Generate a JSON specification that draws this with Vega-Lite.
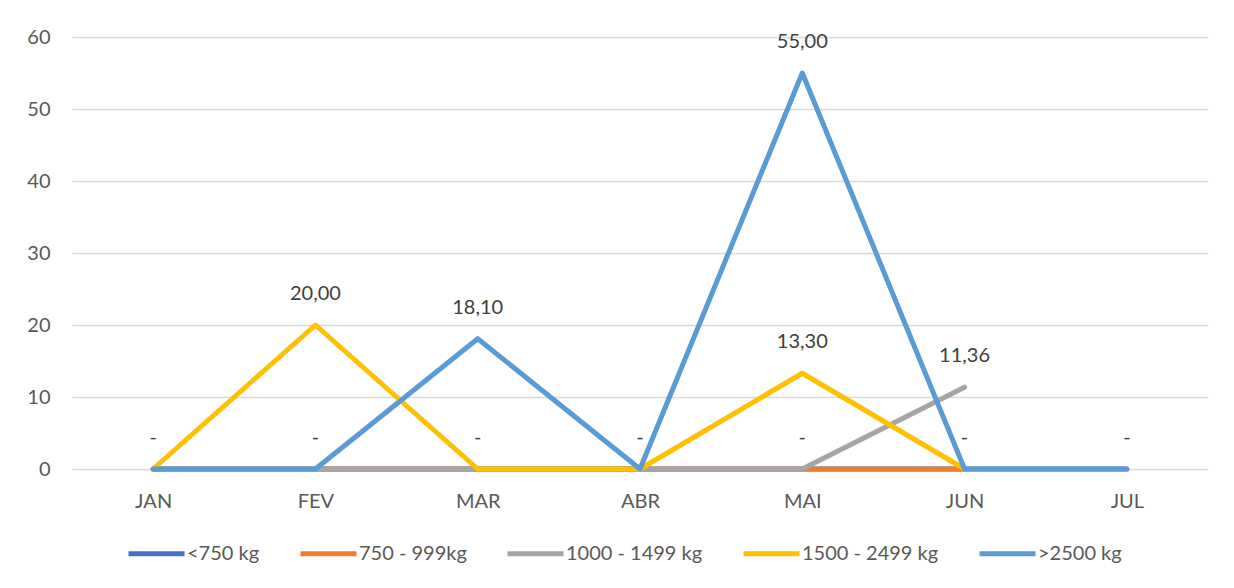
{
  "$schema": "https://vega.github.io/schema/vega-lite/v6.json",
  "width": 1136,
  "height": 432,
  "autosize": {"type": "none"},
  "padding": {"left": 72, "top": 37, "right": 26, "bottom": 119},
  "background": "#ffffff",
  "config": {
    "view": {"stroke": null},
    "font": "Lato"
  },
  "data": {
    "values": [
      {"month": "JAN", "series": "<750 kg", "value": 0, "label": "-"},
      {"month": "FEV", "series": "<750 kg", "value": 0, "label": "-"},
      {"month": "MAR", "series": "<750 kg", "value": 0, "label": "-"},
      {"month": "ABR", "series": "<750 kg", "value": 0, "label": "-"},
      {"month": "MAI", "series": "<750 kg", "value": 0, "label": "-"},
      {"month": "JUN", "series": "<750 kg", "value": 0, "label": "-"},
      {"month": "JUL", "series": "<750 kg", "value": 0, "label": "-"},
      {"month": "JAN", "series": "750 - 999kg", "value": 0},
      {"month": "FEV", "series": "750 - 999kg", "value": 0},
      {"month": "MAR", "series": "750 - 999kg", "value": 0},
      {"month": "ABR", "series": "750 - 999kg", "value": 0},
      {"month": "MAI", "series": "750 - 999kg", "value": 0},
      {"month": "JUN", "series": "750 - 999kg", "value": 0},
      {"month": "JAN", "series": "1000 - 1499 kg", "value": 0},
      {"month": "FEV", "series": "1000 - 1499 kg", "value": 0},
      {"month": "MAR", "series": "1000 - 1499 kg", "value": 0},
      {"month": "ABR", "series": "1000 - 1499 kg", "value": 0},
      {"month": "MAI", "series": "1000 - 1499 kg", "value": 0},
      {"month": "JUN", "series": "1000 - 1499 kg", "value": 11.36, "label": "11,36"},
      {"month": "JAN", "series": "1500 - 2499 kg", "value": 0},
      {"month": "FEV", "series": "1500 - 2499 kg", "value": 20, "label": "20,00"},
      {"month": "MAR", "series": "1500 - 2499 kg", "value": 0},
      {"month": "ABR", "series": "1500 - 2499 kg", "value": 0},
      {"month": "MAI", "series": "1500 - 2499 kg", "value": 13.3, "label": "13,30"},
      {"month": "JUN", "series": "1500 - 2499 kg", "value": 0},
      {"month": "JAN", "series": ">2500 kg", "value": 0},
      {"month": "FEV", "series": ">2500 kg", "value": 0},
      {"month": "MAR", "series": ">2500 kg", "value": 18.1, "label": "18,10"},
      {"month": "ABR", "series": ">2500 kg", "value": 0},
      {"month": "MAI", "series": ">2500 kg", "value": 55, "label": "55,00"},
      {"month": "JUN", "series": ">2500 kg", "value": 0},
      {"month": "JUL", "series": ">2500 kg", "value": 0}
    ]
  },
  "encoding": {
    "x": {
      "field": "month",
      "type": "ordinal",
      "sort": ["JAN", "FEV", "MAR", "ABR", "MAI", "JUN", "JUL"],
      "scale": {"type": "point", "padding": 0.5},
      "axis": {
        "title": null,
        "labelAngle": 0,
        "labelFontSize": 20,
        "labelColor": "#595959",
        "labelPadding": 22,
        "ticks": false,
        "domain": false,
        "grid": false
      }
    },
    "y": {
      "field": "value",
      "type": "quantitative",
      "scale": {"domain": [0, 60], "nice": false},
      "axis": {
        "title": null,
        "values": [0, 10, 20, 30, 40, 50, 60],
        "labelFontSize": 20,
        "labelColor": "#595959",
        "labelPadding": 22,
        "ticks": false,
        "domain": false,
        "gridColor": "#D9D9D9",
        "gridWidth": 1.5
      }
    }
  },
  "layer": [
    {
      "mark": {"type": "line", "strokeWidth": 5, "strokeCap": "round", "strokeJoin": "round"},
      "encoding": {
        "color": {
          "field": "series",
          "type": "nominal",
          "sort": ["<750 kg", "750 - 999kg", "1000 - 1499 kg", "1500 - 2499 kg", ">2500 kg"],
          "scale": {
            "domain": ["<750 kg", "750 - 999kg", "1000 - 1499 kg", "1500 - 2499 kg", ">2500 kg"],
            "range": ["#4472C4", "#ED7D31", "#A5A5A5", "#FFC000", "#5B9BD5"]
          },
          "legend": {
            "title": null,
            "orient": "none",
            "direction": "horizontal",
            "legendX": 54,
            "legendY": 486,
            "symbolType": "stroke",
            "symbolSize": 3136,
            "symbolStrokeWidth": 5,
            "labelFontSize": 20,
            "labelColor": "#595959",
            "labelOffset": 0,
            "columnPadding": 30,
            "labelLimit": 300
          }
        }
      }
    },
    {
      "transform": [{"filter": "datum.label != null"}],
      "mark": {"type": "text", "dy": -31, "fontSize": 20, "color": "#404040", "baseline": "middle"},
      "encoding": {
        "text": {"field": "label", "type": "nominal"}
      }
    }
  ]
}
